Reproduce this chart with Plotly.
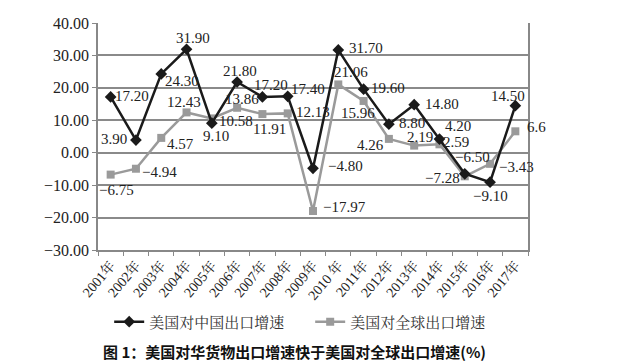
import plotly.graph_objects as go

years = ["2001年", "2002年", "2003年", "2004年", "2005年", "2006年", "2007年", "2008年", "2009年",
         "2010 年", "2011年", "2012年", "2013年", "2014年", "2015年", "2016年", "2017年"]
china_growth = [17.20, 3.90, 24.30, 31.90, 9.10, 21.80, 17.20, 17.40, -4.80,
                31.70, 19.60, 8.80, 14.80, 4.20, -6.50, -9.10, 14.50]
global_growth = [-6.75, -4.94, 4.57, 12.43, 10.58, 13.86, 11.91, 12.13, -17.97,
                 21.06, 15.96, 4.26, 2.19, 2.59, -7.28, -3.43, 6.6]
global_decimals = [2] * 16 + [1]
y_ticks = [40, 30, 20, 10, 0, -10, -20, -30]

# label offsets in pixels (dx right, dy down) relative to each point
china_label_offsets = [(21, -1), (-22, -1), (21, 7), (6, -11), (4, 13), (3, -11), (9, -12),
                       (20, -7), (32, -2), (28, -2), (24, -1), (23, -1), (28, -1), (19, -13),
                       (8, -17), (0, 14), (-7, -10)]
global_label_offsets = [(6, 15), (24, 3), (19, 6), (-3, -10), (24, 3), (5, -9), (7, 15),
                        (25, -1), (31, -4), (13, -12), (-6, 12), (-18, 6), (6, -9), (17, -2),
                        (-22, 2), (26, 3), (21, -4)]


def fmt(v, d=2):
    return (f"{v:.{d}f}").replace("-", "\u2212")


china_text = [fmt(v) for v in china_growth]
global_text = [fmt(v, d) for v, d in zip(global_growth, global_decimals)]

FONT = "Liberation Serif, Times New Roman, serif"
CJK = "Noto Sans CJK SC, sans-serif"
SERIF_CJK = "Liberation Serif, Noto Serif CJK SC, Noto Sans CJK SC, serif"

fig = go.Figure()
fig.add_trace(go.Scatter(
    x=years, y=global_growth, mode="lines+markers", name="美国对全球出口增速",
    line=dict(color="#9a9a9a", width=2.5),
    marker=dict(symbol="square", size=8, color="#9a9a9a"),
    cliponaxis=False,
))
fig.add_trace(go.Scatter(
    x=years, y=china_growth, mode="lines+markers", name="美国对中国出口增速",
    line=dict(color="#1a1a1a", width=2.5),
    marker=dict(symbol="diamond", size=9, color="#1a1a1a"),
    cliponaxis=False,
))

for xs, ys, txt, offs in [(years, global_growth, global_text, global_label_offsets),
                          (years, china_growth, china_text, china_label_offsets)]:
    for x, y, t, (dx, dy) in zip(xs, ys, txt, offs):
        fig.add_annotation(x=x, y=y, text=t, showarrow=False, xanchor="center",
                           yanchor="middle", xshift=dx, yshift=-dy,
                           font=dict(family=FONT, size=15, color="#222"))

fig.update_layout(
    width=640, height=363,
    margin=dict(l=90, r=120, t=15, b=121, autoexpand=False),
    paper_bgcolor="white", plot_bgcolor="white",
    showlegend=True,
    legend=dict(orientation="h", x=0.026, y=-0.317, xanchor="left", yanchor="middle",
                traceorder="reversed", font=dict(family=SERIF_CJK, size=15, color="#333"),
                itemwidth=30, entrywidth=156),
    font=dict(family=FONT, size=15, color="#222"),
)
fig.update_xaxes(
    type="category", range=[-0.5, 16.5], tickangle=-50, automargin=False,
    ticks="outside", tickson="boundaries", ticklen=4, tickcolor="#888",
    showline=True, linecolor="#888", linewidth=1.5, mirror=False,
    showgrid=False, tickfont=dict(family=SERIF_CJK, size=14, color="#222"),
)
fig.update_yaxes(
    range=[-30, 40], tickvals=y_ticks, ticktext=[fmt(v) for v in y_ticks], automargin=False,
    showgrid=True, gridcolor="#8a8a8a", gridwidth=1.5,
    showline=True, linecolor="#888", linewidth=1.5, mirror=True,
    ticks="outside", ticklen=4, tickcolor="#888",
    zeroline=False, tickfont=dict(family=FONT, size=16, color="#222"),
)
fig.add_annotation(
    text="<b>图 1：美国对华货物出口增速快于美国对全球出口增速(%)</b>",
    xref="paper", yref="paper", x=0.458, y=-0.447, xanchor="center", yanchor="middle",
    showarrow=False, borderpad=0, font=dict(family=CJK, size=15, color="#111"),
)
fig.write_html("out.html")
